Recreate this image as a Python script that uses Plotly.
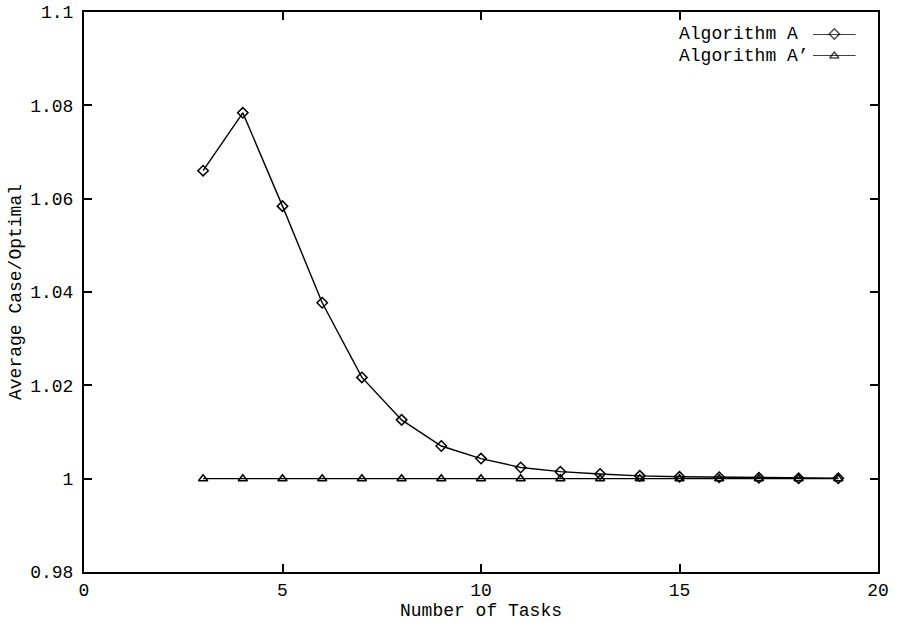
import plotly.graph_objects as go

tasks = list(range(3, 20))
alg_a = [1.0660, 1.0784, 1.0584, 1.0377, 1.0217, 1.0126, 1.0070, 1.0043,
         1.0024, 1.0015, 1.0010, 1.0006, 1.0004, 1.0003, 1.0002, 1.0001, 1.0001]
alg_a_prime = [1.0] * 17

x_ticks = [0, 5, 10, 15, 20]
y_ticks = [0.98, 1.0, 1.02, 1.04, 1.06, 1.08, 1.1]
y_tick_text = ["0.98", "1", "1.02", "1.04", "1.06", "1.08", "1.1"]
legend_labels = ["Algorithm A", "Algorithm A\u2019"]

FONT = "Liberation Mono"
fig = go.Figure()

fig.add_trace(go.Scatter(
    x=tasks, y=alg_a, mode="lines+markers", name=legend_labels[0],
    line=dict(color="black", width=1.4),
    marker=dict(symbol="diamond-open", size=8, color="black", line=dict(width=1.5)),
))
fig.add_trace(go.Scatter(
    x=tasks, y=alg_a_prime, mode="lines+markers", name=legend_labels[1],
    line=dict(color="black", width=1.4),
    marker=dict(symbol="triangle-up-open", size=8, color="black", line=dict(width=1.5)),
))

# key samples (gnuplot-style: text left, sample right) on a hidden overlay axis
key_rows = [0.0, 1.0]
symbols = ["diamond-open", "triangle-up-open"]
for row, sym, lab in zip(key_rows, symbols, legend_labels):
    fig.add_trace(go.Scatter(
        x=[0.0, 0.5, 1.0], y=[row] * 3, mode="lines+markers", xaxis="x2", yaxis="y2",
        line=dict(color="black", width=1.4), showlegend=False, hoverinfo="skip",
        cliponaxis=False,
        marker=dict(symbol=sym, size=[0, 8, 0], color="black", line=dict(width=1.5)),
    ))
    fig.add_annotation(
        x=0, y=row, xref="x2", yref="y2", text=lab, showarrow=False,
        xanchor="left", xshift=-136, font=dict(family=FONT, size=18, color="black"),
    )

axis_common = dict(
    showline=True, linecolor="black", linewidth=2, mirror="ticks",
    ticks="inside", ticklen=8, tickwidth=1.5, tickcolor="black",
    showgrid=False, zeroline=False,
    tickfont=dict(family=FONT, size=18, color="black"),
)

fig.update_layout(
    width=898, height=622,
    margin=dict(l=84, r=20, t=12, b=50),
    paper_bgcolor="white", plot_bgcolor="white",
    showlegend=False,
    xaxis=dict(range=[0, 20], tickvals=x_ticks, ticktext=[str(v) for v in x_ticks],
               title=dict(text="Number of Tasks", font=dict(family=FONT, size=18, color="black"), standoff=0),
               automargin=False, **axis_common),
    yaxis=dict(range=[0.98, 1.1], tickvals=y_ticks, ticktext=y_tick_text,
               title=dict(text="Average Case/Optimal", font=dict(family=FONT, size=18, color="black"), standoff=4),
               automargin=False, ticklabelstandoff=5, **axis_common),
    xaxis2=dict(domain=[0.918, 0.972], range=[0, 1], visible=False, anchor="y2"),
    yaxis2=dict(domain=[0.9214, 0.9607], range=[1, 0], visible=False, anchor="x2"),
)

fig.write_html("out.html")
